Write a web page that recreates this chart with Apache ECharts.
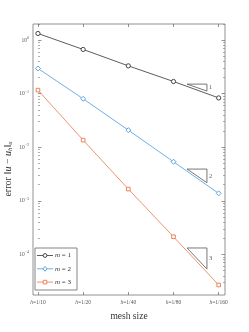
<!DOCTYPE html>
<html><head><meta charset="utf-8">
<script src="https://cdn.jsdelivr.net/npm/echarts@6/dist/echarts.min.js"></script>
<style>html,body{margin:0;padding:0;background:#fff}#c{width:249px;height:332px}</style>
</head><body><div id="c"></div>
<script>
// ---- data ----
var categories = ['1/10', '1/20', '1/40', '1/80', '1/160'];
var catIndex = [0, 1, 2, 3, 4];
var err_m1 = [1.33, 0.67, 0.331, 0.169, 0.0835];
var err_m2 = [0.296, 0.0804, 0.0209, 0.00537, 0.00138];
var err_m3 = [0.1167, 0.0136, 0.00166, 0.000214, 0.0000269];
var yMajorTicks = [1e-4, 1e-3, 1e-2, 1e-1, 1];
var yMinorTicks = [3e-5,4e-5,5e-5,6e-5,7e-5,8e-5,9e-5,
  2e-4,3e-4,4e-4,5e-4,6e-4,7e-4,8e-4,9e-4,
  2e-3,3e-3,4e-3,5e-3,6e-3,7e-3,8e-3,9e-3,
  2e-2,3e-2,4e-2,5e-2,6e-2,7e-2,8e-2,9e-2,
  0.2,0.3,0.4,0.5,0.6,0.7,0.8,0.9,2];
// slope triangles: x-range, top value, bottom value, label
var triX = [3.30, 3.74];
var triTop = [0.151, 0.00392, 0.000132];
var triBottom = [0.112, 0.00218, 0.0000534];
var triLabels = ['1', '2', '3'];

var seriesNames = ['m1', 'm2', 'm3'];
var colors = ['#333333', '#4a9be0', '#e8784a'];
var symbols = ['circle', 'diamond', 'rect'];
var symbolSizes = [4.2, 5, 3.6];
var allErr = [err_m1, err_m2, err_m3];

var serif = '"Liberation Serif", "DejaVu Serif", serif';

var series = [];
allErr.forEach(function (arr, k) {
  series.push({
    name: seriesNames[k], type: 'line',
    data: catIndex.map(function (x, i) { return [x, arr[i]]; }),
    symbol: symbols[k], symbolSize: symbolSizes[k],
    itemStyle: { color: '#fff', borderColor: colors[k], borderWidth: 0.9 },
    lineStyle: { color: colors[k], width: 0.8 },
    emphasis: { disabled: true }, z: 3
  });
});
triTop.forEach(function (t, k) {
  var b = triBottom[k];
  series.push({
    name: 'tri' + k, type: 'line', silent: true, symbol: 'none',
    data: [[triX[0], t], [triX[1], t], [triX[1], b], [triX[0], t]],
    lineStyle: { color: '#555', width: 0.8 }, z: 4
  });
  series.push({
    name: 'trilabel' + k, type: 'scatter', silent: true, symbolSize: 0,
    data: [[triX[1], Math.sqrt(t * b)]],
    label: { show: true, position: 'right', distance: 2, formatter: triLabels[k],
      fontFamily: serif, fontSize: 6.5, color: '#333' }, z: 5
  });
});

var chart = echarts.init(document.getElementById('c'), null, { renderer: 'canvas' });
chart.setOption({
  animation: false,
  backgroundColor: '#fff',
  grid: { left: 33, right: 24, top: 24, bottom: 37, show: true, borderColor: '#777', borderWidth: 0.8, backgroundColor: 'transparent' },
  xAxis: [{
    type: 'value', min: -0.11, max: 4.14, position: 'bottom',
    axisLine: { show: false }, splitLine: { show: false },
    axisTick: { show: true, inside: true, length: 3, customValues: catIndex, lineStyle: { color: '#666', width: 0.7 } },
    axisLabel: { customValues: catIndex, margin: 5, fontFamily: serif, fontSize: 5.5, color: '#555',
      formatter: function (v) { return '{i|h}=' + categories[Math.round(v)]; },
      rich: { i: { fontStyle: 'italic', fontFamily: serif, fontSize: 5.5, color: '#555' } } },
    name: 'mesh size', nameLocation: 'middle', nameGap: 16,
    nameTextStyle: { fontFamily: serif, fontSize: 9.5, color: '#333' }
  }, {
    type: 'value', min: -0.11, max: 4.14, position: 'top',
    axisLine: { show: false }, splitLine: { show: false }, axisLabel: { show: false },
    axisTick: { show: true, inside: true, length: 3, customValues: catIndex, lineStyle: { color: '#666', width: 0.7 } }
  }],
  yAxis: [{
    type: 'log', min: 1.75e-5, max: 2, position: 'left',
    axisLine: { show: false }, splitLine: { show: false },
    axisTick: { show: true, inside: true, length: 3.5, customValues: yMajorTicks, lineStyle: { color: '#666', width: 0.7 } },
    axisLabel: { customValues: yMajorTicks, margin: 4, color: '#555',
      formatter: function (v) {
        var e = Math.round(Math.log10(v));
        return '{b|10}{s|' + (e === 0 ? '0' : String(e).replace('-', '\u2212')) + '}';
      },
      rich: { b: { fontFamily: serif, fontSize: 5.5, color: '#555' },
        s: { fontFamily: serif, fontSize: 4, color: '#555', verticalAlign: 'top', padding: [0, 0, 4, 0] } } }
  }, {
    type: 'log', min: 1.75e-5, max: 2, position: 'left',
    axisLine: { show: false }, splitLine: { show: false }, axisLabel: { show: false },
    axisTick: { show: true, inside: true, length: 2, customValues: yMinorTicks, lineStyle: { color: '#777', width: 0.6 } }
  }, {
    type: 'log', min: 1.75e-5, max: 2, position: 'right',
    axisLine: { show: false }, splitLine: { show: false }, axisLabel: { show: false },
    axisTick: { show: true, inside: true, length: 3.5, customValues: yMajorTicks, lineStyle: { color: '#666', width: 0.7 } }
  }, {
    type: 'log', min: 1.75e-5, max: 2, position: 'right',
    axisLine: { show: false }, splitLine: { show: false }, axisLabel: { show: false },
    axisTick: { show: true, inside: true, length: 2, customValues: yMinorTicks, lineStyle: { color: '#777', width: 0.6 } }
  }],
  graphic: [{
    type: 'text', x: 8, y: 169, rotation: Math.PI / 2,
    style: {
      text: 'error {n|\u2016}{i|u} \u2212 {i|u}{sub|h}{n|\u2016}{sub|u}',
      fontFamily: serif, fontSize: 10, fill: '#333', align: 'center', verticalAlign: 'middle',
      rich: { i: { fontStyle: 'italic', fontFamily: serif, fontSize: 10, fill: '#333' },
        n: { fontFamily: serif, fontSize: 11, fill: '#333' },
        sub: { fontStyle: 'italic', fontFamily: serif, fontSize: 6.5, fill: '#333', verticalAlign: 'bottom', padding: [4, 0, 0, 0] } }
    }
  }, {
    type: 'rect', shape: { x: 35, y: 248, width: 42, height: 42 },
    style: { fill: '#fff', stroke: '#666', lineWidth: 0.8 }, z: 10
  }].concat(seriesNames.map(function (n, k) {
    var cy = 255.5 + k * 13.3;
    return { type: 'group', z: 11, children: [
      { type: 'line', shape: { x1: 37, y1: cy, x2: 53, y2: cy }, style: { stroke: colors[k], lineWidth: 0.8 }, z: 11 },
      { type: k === 0 ? 'circle' : (k === 1 ? 'polygon' : 'rect'),
        shape: k === 0 ? { cx: 45, cy: cy, r: 1.9 } : (k === 1 ? { points: [[45, cy - 2.4], [46.9, cy], [45, cy + 2.4], [43.1, cy]] } : { x: 43.2, y: cy - 1.8, width: 3.6, height: 3.6 }),
        style: { fill: '#fff', stroke: colors[k], lineWidth: 0.9 }, z: 12 },
      { type: 'text', x: 55, y: cy, z: 12,
        style: { text: '{i|m} = ' + (k + 1), fontFamily: serif, fontSize: 7, fill: '#333', verticalAlign: 'middle',
          rich: { i: { fontStyle: 'italic', fontFamily: serif, fontSize: 7, fill: '#333' } } } }
    ] };
  })),
  series: series
});
</script></body></html>
